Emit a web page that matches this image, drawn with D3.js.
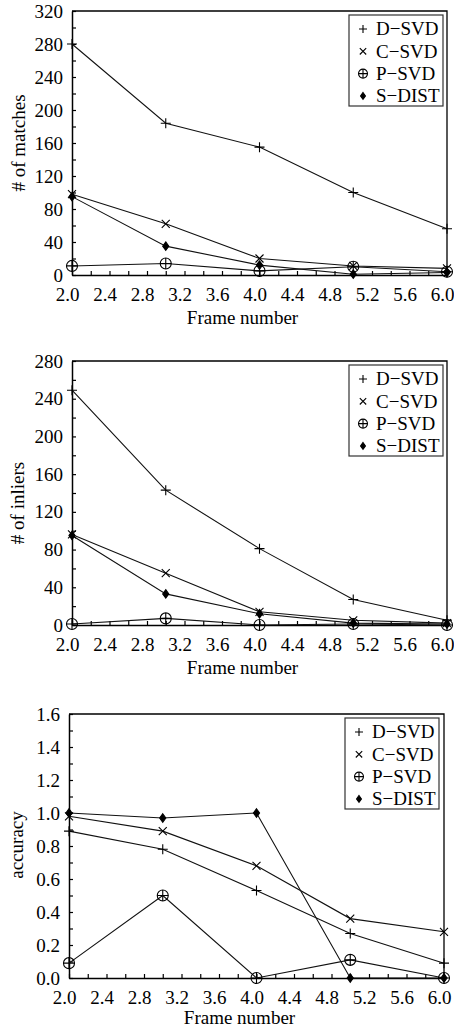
<!DOCTYPE html>
<html>
<head>
<meta charset="utf-8">
<script src="https://cdn.jsdelivr.net/npm/d3@7"></script>
<style>
  body { margin: 0; background: #fff; }
  text { font-family: "Liberation Serif", "Times New Roman", serif; fill: #000; }
</style>
</head>
<body>
<script>
const frames = [2, 3, 4, 5, 6]
const seriesNames = ['D\u2212SVD', 'C\u2212SVD', 'P\u2212SVD', 'S\u2212DIST']
const markerTypes = ['plus', 'cross', 'oplus', 'diamond']

// # of matches
const matchesD = [280, 184, 155, 100, 56]
const matchesC = [98, 62, 20, 11, 8]
const matchesP = [11, 14, 5, 10, 4]
const matchesS = [95, 35, 12, 1, 3]

// # of inliers
const inliersD = [249, 143, 81, 27, 5]
const inliersC = [96, 55, 14, 5, 2]
const inliersP = [1, 7, 0, 1, 0]
const inliersS = [95, 33, 12, 2, 1]

// accuracy
const accuracyD = [0.89, 0.78, 0.53, 0.27, 0.09]
const accuracyC = [0.98, 0.89, 0.68, 0.36, 0.28]
const accuracyP = [0.09, 0.50, 0.0, 0.11, 0.0]
const accuracyS = [1.0, 0.97, 1.0, 0.0, 0.0]

const xTicks = d3.range(2, 6.001, 0.2)

const width = 454
const height = 1029
const fontSize = 19

const svg = d3.select('body')
  .append('svg')
  .attr('width', width)
  .attr('height', height)

function markerPath(type, s) {
  if (type === 'plus' || type === 'oplus') return `M${-s},0H${s}M0,${-s}V${s}`
  if (type === 'cross') { const a = s * 0.8; return `M${-a},${-a}L${a},${a}M${-a},${a}L${a},${-a}` }
  if (type === 'diamond') return `M0,${-s}L${s * 0.72},0L0,${s}L${-s * 0.72},0Z`
}

function drawMarker(g, type, s) {
  if (type === 'oplus') {
    g.append('circle').attr('r', s).attr('fill', 'none').attr('stroke', '#000').attr('stroke-width', 1.1)
  }
  g.append('path')
    .attr('d', markerPath(type, type === 'diamond' ? s * 0.85 : s))
    .attr('fill', type === 'diamond' ? '#000' : 'none')
    .attr('stroke', '#000')
    .attr('stroke-width', 1.1)
}

function drawPanel(cfg) {
  const x = d3.scaleLinear().domain([2, 6]).range([cfg.left, cfg.right])
  const y = d3.scaleLinear().domain([0, cfg.yMax]).range([cfg.bottom, cfg.top])
  const g = svg.append('g')

  // frame on top and right
  g.append('path')
    .attr('d', `M${cfg.left},${cfg.top}H${cfg.right}V${cfg.bottom}`)
    .attr('fill', 'none')
    .attr('stroke', '#000')
    .attr('stroke-width', 1.3)

  const xAxis = g.append('g')
    .attr('transform', `translate(0,${cfg.bottom})`)
    .call(d3.axisBottom(x)
      .tickValues(xTicks)
      .tickSizeInner(-4)
      .tickSizeOuter(0)
      .tickPadding(13)
      .tickFormat((d, i) => i % 2 ? '' : d3.format('.1f')(d)))
  xAxis.selectAll('text').attr('font-size', fontSize).attr('dx', -5)

  const yTicks = d3.range(0, cfg.yMax + cfg.yMinor / 2, cfg.yMinor)
  const yAxis = g.append('g')
    .attr('transform', `translate(${cfg.left},0)`)
    .call(d3.axisLeft(y)
      .tickValues(yTicks)
      .tickSizeInner(-4)
      .tickSizeOuter(0)
      .tickPadding(9)
      .tickFormat((d, i) => i % 2 ? '' : d3.format(cfg.yFormat)(d)))
  yAxis.selectAll('text').attr('font-size', fontSize)

  g.selectAll('.domain').attr('stroke-width', 1.5)
  g.selectAll('.tick line').attr('stroke-width', 1.2)

  g.append('text')
    .attr('x', (cfg.left + cfg.right) / 2 - 17)
    .attr('y', cfg.bottom + cfg.xTitleOffset)
    .attr('text-anchor', 'middle')
    .attr('font-size', fontSize)
    .text('Frame number')

  g.append('text')
    .attr('transform', `translate(${cfg.titleX},${cfg.titleY}) rotate(-90)`)
    .attr('text-anchor', 'middle')
    .attr('font-size', fontSize)
    .text(cfg.title)

  const line = d3.line().x((d, i) => x(frames[i])).y(d => y(d))

  cfg.series.forEach(values => {
    g.append('path')
      .datum(values)
      .attr('d', line)
      .attr('fill', 'none')
      .attr('stroke', '#111')
      .attr('stroke-width', 1.1)
  })

  cfg.series.forEach((values, k) => {
    values.forEach((v, i) => {
      const m = g.append('g').attr('transform', `translate(${x(frames[i])},${y(v)})`)
      drawMarker(m, markerTypes[k], markerTypes[k] === 'oplus' ? 5.5 : 5)
    })
  })

  // legend
  const lg = g.append('g').attr('transform', `translate(${cfg.legendX},${cfg.legendY})`)
  lg.append('rect')
    .attr('width', 94)
    .attr('height', 91)
    .attr('fill', '#fff')
    .attr('stroke', '#333')
    .attr('stroke-width', 1.2)
  seriesNames.forEach((name, k) => {
    const cy = 14 + k * 22.3
    const m = lg.append('g').attr('transform', `translate(14,${cy})`)
    drawMarker(m, markerTypes[k], markerTypes[k] === 'oplus' ? 4.5 : 4)
    lg.append('text')
      .attr('x', 27)
      .attr('y', cy)
      .attr('dy', '0.34em')
      .attr('font-size', fontSize)
      .text(name)
  })
}

drawPanel({
  left: 72, right: 447, top: 11, bottom: 275,
  yMax: 320, yMinor: 20, yFormat: 'd',
  title: '# of matches', titleX: 25, titleY: 143,
  legendX: 349, legendY: 15, xTitleOffset: 49,
  series: [matchesD, matchesC, matchesP, matchesS]
})

drawPanel({
  left: 72, right: 447, top: 361, bottom: 625,
  yMax: 280, yMinor: 20, yFormat: 'd',
  title: '# of inliers', titleX: 24, titleY: 503,
  legendX: 349, legendY: 365, xTitleOffset: 49,
  series: [inliersD, inliersC, inliersP, inliersS]
})

drawPanel({
  left: 69, right: 444, top: 714, bottom: 978,
  yMax: 1.6, yMinor: 0.1, yFormat: '.1f',
  title: 'accuracy', titleX: 23, titleY: 845,
  legendX: 345, legendY: 718, xTitleOffset: 46,
  series: [accuracyD, accuracyC, accuracyP, accuracyS]
})
</script>
</body>
</html>
